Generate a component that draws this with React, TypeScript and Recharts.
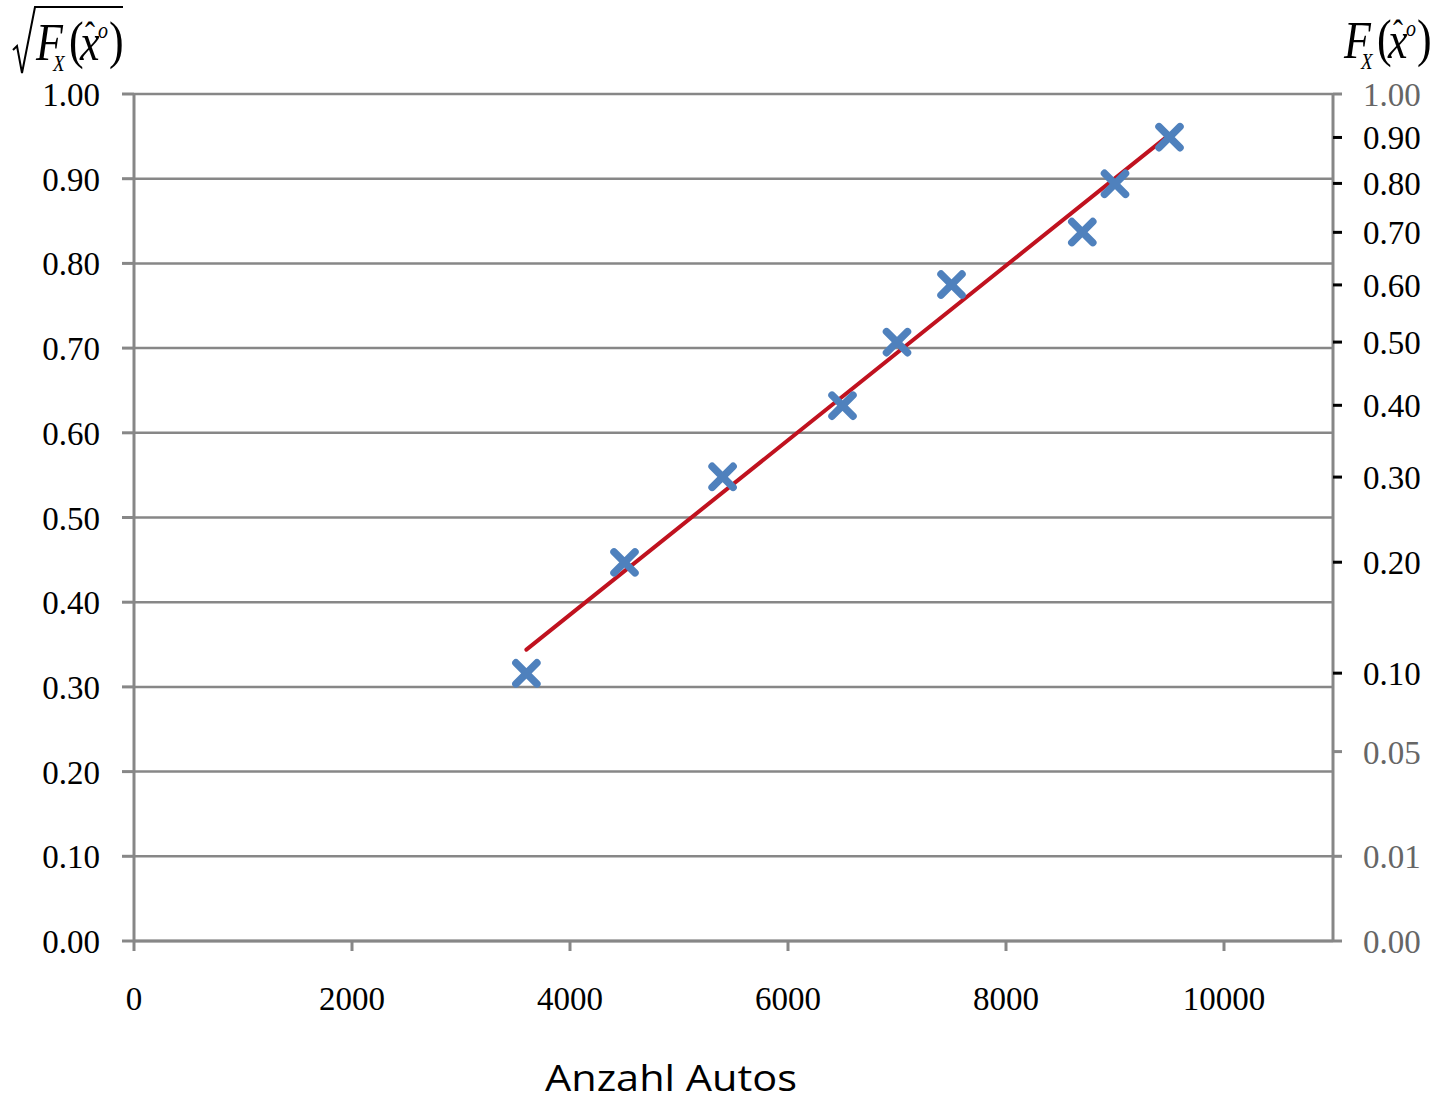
import React from 'react';
import { ComposedChart, Scatter, Line, XAxis, YAxis, CartesianGrid } from 'recharts';

// ---- data ----
const autos = [3600, 4500, 5400, 6500, 7000, 7500, 8700, 9000, 9500];
const sqrtF = [0.316, 0.447, 0.548, 0.632, 0.707, 0.775, 0.837, 0.894, 0.949];
const fitX = [3600, 9500];
const fitY = [0.344, 0.952];
const xTicks = [0, 2000, 4000, 6000, 8000, 10000];
const leftTicks = [0, 0.1, 0.2, 0.3, 0.4, 0.5, 0.6, 0.7, 0.8, 0.9, 1.0];
const rightTickLabels = ['0.00', '0.01', '0.05', '0.10', '0.20', '0.30', '0.40', '0.50', '0.60', '0.70', '0.80', '0.90', '1.00'];
const rightGrayLabels = ['0.00', '0.01', '0.05', '1.00'];
const xTitle = 'Anzahl Autos';

const scatterData = autos.map((x, i) => ({ x, y: sqrtF[i] }));
const fitData = fitX.map((x, i) => ({ x, y: fitY[i] }));
// right axis is a sqrt-scaled probability axis
const rightTickPos = rightTickLabels.map((l) => Math.sqrt(parseFloat(l)));

const GRAY = '#878787';
const SERIF = '"Liberation Serif", "Times New Roman", serif';

const Cross = (props: any) => {
  const { cx, cy } = props;
  if (cx == null || cy == null) return null;
  const a = 10.5;
  return (
    <path
      d={`M${cx - a},${cy - a}L${cx + a},${cy + a}M${cx - a},${cy + a}L${cx + a},${cy - a}`}
      stroke="#4F81BD"
      strokeWidth={7.5}
      strokeLinecap="round"
      fill="none"
    />
  );
};

const LeftTick = (props: any) => {
  const { x, y, payload } = props;
  return (
    <text x={x} y={y + 12} textAnchor="end" fontFamily={SERIF} fontSize={33} fill="#000">
      {Number(payload.value).toFixed(2)}
    </text>
  );
};

const RightTick = (props: any) => {
  const { x, y, index } = props;
  const label = rightTickLabels[index] ?? '';
  const gray = rightGrayLabels.includes(label);
  return (
    <g>
      <line x1={x} x2={x + 9} y1={y} y2={y} stroke={gray ? GRAY : '#000'} strokeWidth={3} />
      <text x={x + 30} y={y + 12} textAnchor="start" fontFamily={SERIF} fontSize={33} fill={gray ? '#666' : '#000'}>
        {label}
      </text>
    </g>
  );
};

const XTick = (props: any) => {
  const { x, y, payload } = props;
  return (
    <text x={x} y={y + 59} textAnchor="middle" fontFamily={SERIF} fontSize={33} fill="#000">
      {payload.value}
    </text>
  );
};

const MathLabel = ({ x0, y0 }: { x0: number; y0: number }) => (
  <g transform={`translate(${x0},${y0}) scale(1,1.2)`}>
    <text fontFamily={SERIF} fill="#000" fontSize={44}>
      <tspan x={0} y={0} fontStyle="italic">F</tspan>
      <tspan x={17} y={9} fontSize={19} fontStyle="italic">X</tspan>
      <tspan x={33} y={-2}>(</tspan>
      <tspan x={44} y={0} fontStyle="italic">x</tspan>
      <tspan x={49} y={-11} fontSize={30}>ˆ</tspan>
      <tspan x={62} y={-18} fontSize={20} fontStyle="italic">o</tspan>
      <tspan x={73} y={-2}>)</tspan>
    </text>
  </g>
);

export default function App() {
  return (
    <div style={{ position: 'absolute', left: 0, top: 0, width: 1437, height: 1102, background: '#fff' }}>
      <ComposedChart
        width={1437}
        height={1102}
        margin={{ top: 94, right: 0, bottom: 0, left: 0 }}
        style={{ position: 'absolute', left: 0, top: 0 }}
      >
        <CartesianGrid vertical={false} horizontal stroke={GRAY} strokeWidth={2.5} />
        <XAxis
          type="number"
          dataKey="x"
          domain={[0, 11000]}
          ticks={xTicks}
          interval={0}
          height={161}
          tickSize={10}
          tickMargin={0}
          axisLine={{ stroke: GRAY, strokeWidth: 3 }}
          tickLine={{ stroke: GRAY, strokeWidth: 3 }}
          tick={<XTick />}
          allowDataOverflow
        />
        <YAxis
          type="number"
          dataKey="y"
          domain={[0, 1]}
          ticks={leftTicks}
          interval={0}
          width={134}
          tickSize={12}
          tickMargin={22}
          axisLine={{ stroke: GRAY, strokeWidth: 3 }}
          tickLine={{ stroke: GRAY, strokeWidth: 3 }}
          tick={<LeftTick />}
          allowDataOverflow
        />
        <YAxis
          yAxisId="right"
          orientation="right"
          type="number"
          domain={[0, 1]}
          ticks={rightTickPos}
          interval={0}
          width={104}
          tickSize={0}
          tickMargin={0}
          axisLine={{ stroke: GRAY, strokeWidth: 3 }}
          tickLine={false}
          tick={<RightTick />}
          allowDataOverflow
        />
        <Scatter data={scatterData} dataKey="y" shape={<Cross />} isAnimationActive={false} />
        <Line
          data={fitData}
          dataKey="y"
          type="linear"
          stroke="#C0121F"
          strokeWidth={4}
          strokeLinecap="round"
          dot={false}
          activeDot={false}
          isAnimationActive={false}
        />
      </ComposedChart>
      <svg width={1437} height={1102} style={{ position: 'absolute', left: 0, top: 0, pointerEvents: 'none' }}>
        <path d="M13,50 L17,46 L22,73 L35,7 L123,7" stroke="#000" strokeWidth={2} fill="none" />
        <MathLabel x0={36} y0={60} />
        <MathLabel x0={1344} y0={58} />
        <text
          x={671}
          y={1091}
          textAnchor="middle"
          fontFamily='"Open Sans", sans-serif'
          fontSize={37}
          textLength={252}
          lengthAdjust="spacingAndGlyphs"
          fill="#000"
        >
          {xTitle}
        </text>
      </svg>
    </div>
  );
}
